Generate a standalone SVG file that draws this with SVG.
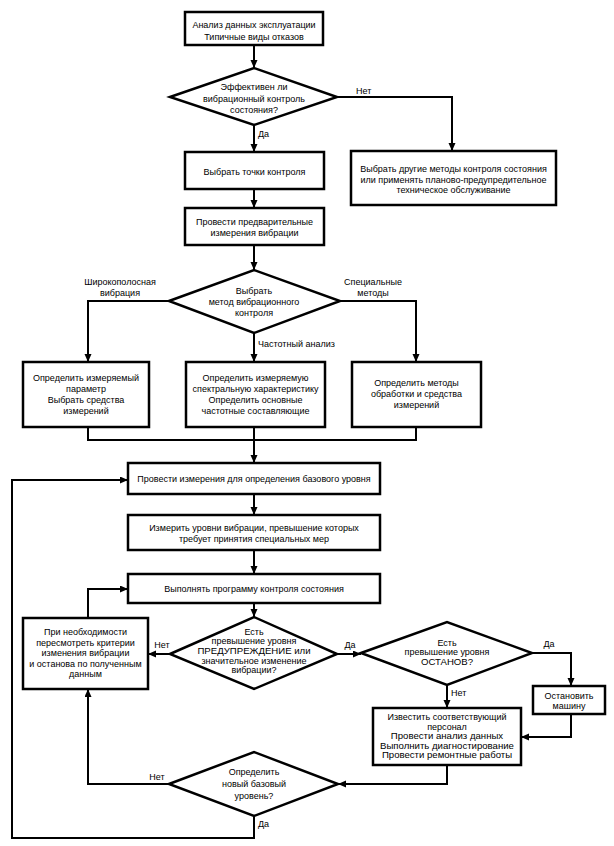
<svg xmlns="http://www.w3.org/2000/svg" width="614" height="846" viewBox="0 0 614 846">
<defs>
<style>
.b{fill:#fff;stroke:#000;stroke-width:2.5}
.c{fill:none;stroke:#000;stroke-width:2}
text{font-family:"Liberation Sans",Arial,sans-serif;font-size:9px;fill:#000;stroke:none;text-anchor:middle}
.s{text-anchor:start}
.big{font-size:9.6px}
</style>
<marker id="a" markerUnits="userSpaceOnUse" markerWidth="8" markerHeight="8" refX="8" refY="3.5" orient="auto"><path d="M0,0 L8,3.5 L0,7 z" fill="#000" stroke="none"/></marker>
</defs>
<rect width="614" height="846" fill="#fff"/>
<g id="connectors">
<g class="c">
<path d="M254,45 V68" marker-end="url(#a)"/>
<path d="M337,97 H452 V151" marker-end="url(#a)"/>
<path d="M254,125 V152" marker-end="url(#a)"/>
<path d="M254,189 V208" marker-end="url(#a)"/>
<path d="M254,245 V270" marker-end="url(#a)"/>
<path d="M169,301 H88 V362" marker-end="url(#a)"/>
<path d="M340,301 H416 V362" marker-end="url(#a)"/>
<path d="M254,333 V362" marker-end="url(#a)"/>
<path d="M88,427 V440 H416 V427"/>
<path d="M254,427 V463" marker-end="url(#a)"/>
<path d="M254,494 V515" marker-end="url(#a)"/>
<path d="M254,550 V574" marker-end="url(#a)"/>
<path d="M254,603 V617" marker-end="url(#a)"/>
<path d="M88,618 V589 H128" marker-end="url(#a)"/>
<path d="M170,654 H148" marker-end="url(#a)"/>
<path d="M337,654 H361" marker-end="url(#a)"/>
<path d="M532,653 H571 V686" marker-end="url(#a)"/>
<path d="M447,685 V708" marker-end="url(#a)"/>
<path d="M571,714 V737 H521" marker-end="url(#a)"/>
<path d="M447,765 V784 H338" marker-end="url(#a)"/>
<path d="M169,784 H88 V689" marker-end="url(#a)"/>
<path d="M254,816 V838 H12 V480 H128" marker-end="url(#a)"/>
</g>
<g id="labels">
<text class="s" x="356" y="94">Нет</text>
<text class="s" x="258" y="137">Да</text>
<text x="120" y="285">Широкополосная</text>
<text x="120" y="296">вибрация</text>
<text x="373" y="285">Специальные</text>
<text x="373" y="296">методы</text>
<text class="s" x="258" y="347">Частотный анализ</text>
<text x="162" y="648">Нет</text>
<text x="350" y="648">Да</text>
<text x="549" y="647">Да</text>
<text class="s" x="451" y="696">Нет</text>
<text x="157" y="780">Нет</text>
<text class="s" x="258" y="827">Да</text>
</g>
</g>
<g id="n1"><rect class="b" x="185" y="12" width="138" height="33"/>
<text x="254" y="28">Анализ данных эксплуатации</text><text x="254" y="39.5">Типичные виды отказов</text></g>
<g id="d1"><polygon class="b" points="170,97 254,68 337,97 254,125"/>
<text x="254" y="90">Эффективен ли</text><text x="254" y="101.5">вибрационный контроль</text><text x="254" y="113">состояния?</text></g>
<g id="n2"><rect class="b" x="351" y="151" width="205" height="54"/>
<text x="453.5" y="172">Выбрать другие методы контроля состояния</text><text x="453.5" y="182.5">или применять планово-предупредительное</text><text x="453.5" y="193">техническое обслуживание</text></g>
<g id="n3"><rect class="b" x="185" y="152" width="139" height="37"/>
<text x="254.5" y="175">Выбрать точки контроля</text></g>
<g id="n4"><rect class="b" x="185" y="208" width="139" height="37"/>
<text x="254.5" y="225">Провести предварительные</text><text x="254.5" y="236">измерения вибрации</text></g>
<g id="d2"><polygon class="b" points="169,301 254,270 340,301 254,333"/>
<text x="254" y="294">Выбрать</text><text x="254" y="305">метод вибрационного</text><text x="254" y="316">контроля</text></g>
<g id="n5"><rect class="b" x="23" y="362" width="126" height="65"/>
<text x="86" y="381">Определить измеряемый</text><text x="86" y="392">параметр</text><text x="86" y="403">Выбрать средства</text><text x="86" y="414">измерений</text></g>
<g id="n6"><rect class="b" x="186" y="362" width="139" height="65"/>
<text x="255.5" y="381">Определить измеряемую</text><text x="255.5" y="392">спектральную характеристику</text><text x="255.5" y="403">Определить основные</text><text x="255.5" y="414">частотные составляющие</text></g>
<g id="n7"><rect class="b" x="352" y="362" width="129" height="65"/>
<text x="416.5" y="386">Определить методы</text><text x="416.5" y="397">обработки и средства</text><text x="416.5" y="408">измерений</text></g>
<g id="n8"><rect class="b" x="128" y="463" width="252" height="31"/>
<text x="254" y="482">Провести измерения для определения базового уровня</text></g>
<g id="n9"><rect class="b" x="128" y="515" width="252" height="35"/>
<text x="254" y="531">Измерить уровни вибрации, превышение которых</text><text x="254" y="542">требует принятия специальных мер</text></g>
<g id="n10"><rect class="b" x="128" y="574" width="252" height="29"/>
<text x="254" y="592">Выполнять программу контроля состояния</text></g>
<g id="n11"><rect class="b" x="23" y="618" width="125" height="71"/>
<text x="85.5" y="635">При необходимости</text><text x="85.5" y="645.5">пересмотреть критерии</text><text x="85.5" y="656">изменения вибрации</text><text x="85.5" y="666.5">и останова по полученным</text><text x="85.5" y="677">данным</text></g>
<g id="d3"><polygon class="b" points="170,654 254,617 337,654 254,689"/>
<text x="254" y="635">Есть</text><text x="254" y="644">превышение уровня</text><text class="big" x="254" y="654">ПРЕДУПРЕЖДЕНИЕ или</text><text x="254" y="663.5">значительное изменение</text><text x="254" y="673">вибрации?</text></g>
<g id="d4"><polygon class="b" points="361,653 447,622 532,653 447,685"/>
<text x="447" y="646">Есть</text><text x="447" y="655">превышение уровня</text><text class="big" x="447" y="665">ОСТАНОВ?</text></g>
<g id="n12"><rect class="b" x="533" y="686" width="72" height="28"/>
<text x="569" y="699">Остановить</text><text x="569" y="709">машину</text></g>
<g id="n13"><rect class="b" x="373" y="708" width="148" height="57"/>
<text x="447" y="720">Известить соответствующий</text><text x="447" y="729.5">персонал</text><text class="big" x="447" y="739">Провести анализ данных</text><text class="big" x="447" y="748.5">Выполнить диагностирование</text><text class="big" x="447" y="758">Провести ремонтные работы</text></g>
<g id="d5"><polygon class="b" points="169,784 254,752 338,784 254,816"/>
<text x="254" y="775">Определить</text><text x="254" y="787">новый базовый</text><text x="254" y="799">уровень?</text></g>
</svg>
